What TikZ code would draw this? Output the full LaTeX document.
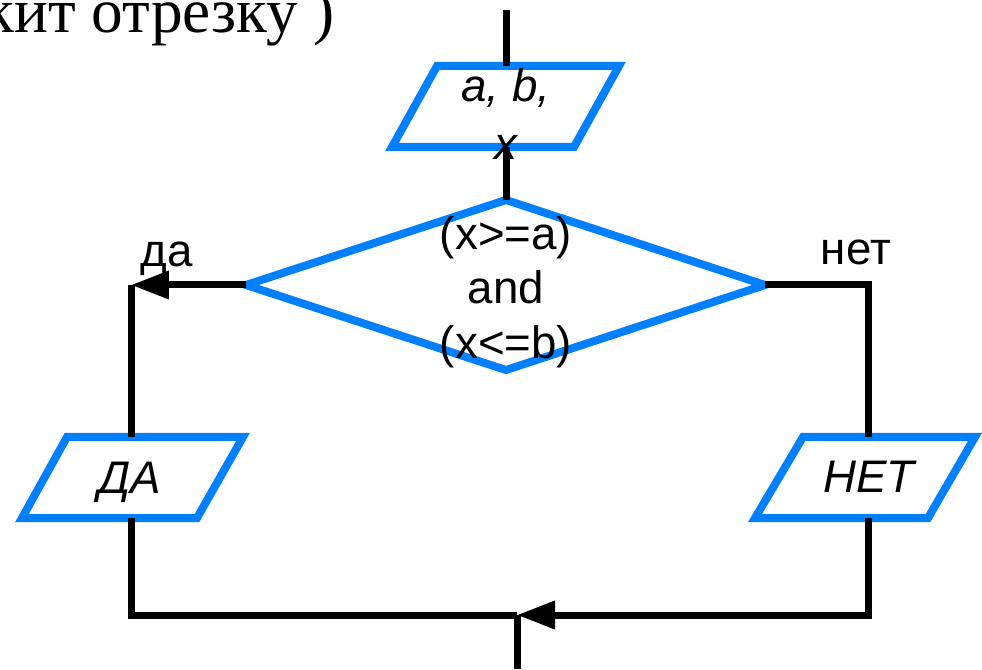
\documentclass[tikz,border=0pt]{standalone}
\usepackage{fontspec}
\setmainfont{Liberation Sans}
\newfontfamily\rmru{Liberation Serif}
\usepackage{tkz-euclide}
\usetikzlibrary{arrows.meta}
\definecolor{flowblue}{RGB}{0,128,255}
\tikzset{
  blockline/.style={draw=flowblue, line width=0.16cm},
  flowline/.style={draw=black, line width=0.14cm},
  flowarrow/.style={flowline, -{Triangle[length=0.76cm,width=0.54cm]}},
  blocktext/.style={font=\fontsize{26}{31}\selectfont, align=center, inner sep=0pt},
  itext/.style={blocktext, font=\fontsize{26}{33}\selectfont\itshape},
}

\begin{document}
\begin{tikzpicture}[x=0.02cm,y=0.02cm]
  \useasboundingbox (0,0) rectangle (982,669);
  % 1. Define the vertices of the blocks
  \tkzDefPoint(437,603){I1} \tkzDefPoint(619,603){I2}
  \tkzDefPoint(574,522){I3} \tkzDefPoint(392,522){I4}
  \tkzDefPoint(506,469){D1} \tkzDefPoint(765,384){D2}
  \tkzDefPoint(506,299){D3} \tkzDefPoint(246,384){D4}
  \tkzDefPoint(67,232){Y1}  \tkzDefPoint(243,232){Y2}
  \tkzDefPoint(197,151){Y3} \tkzDefPoint(22,151){Y4}
  \tkzDefPoint(803,232){N1} \tkzDefPoint(975,232){N2}
  \tkzDefPoint(928,151){N3} \tkzDefPoint(755,151){N4}

  % 2. Define the ends and corners of the flow lines
  \tkzDefPoint(506,659){S}
  \tkzDefPoint(506,603){It} \tkzDefPoint(506,522){Ib}
  \tkzDefPoint(131,384){L}  \tkzDefPoint(868,384){R}
  \tkzDefPoint(131,232){Yt} \tkzDefPoint(131,151){Yb}
  \tkzDefPoint(868,232){Nt} \tkzDefPoint(868,151){Nb}
  \tkzDefPoint(131,54){BL}  \tkzDefPoint(868,54){BR}
  \tkzDefPoint(517,54){M}   \tkzDefPoint(517,0){E}

  % 3. Draw the blocks
  \draw[blockline] (I1) -- (I2) -- (I3) -- (I4) -- cycle;
  \draw[blockline] (D1) -- (D2) -- (D3) -- (D4) -- cycle;
  \draw[blockline] (Y1) -- (Y2) -- (Y3) -- (Y4) -- cycle;
  \draw[blockline] (N1) -- (N2) -- (N3) -- (N4) -- cycle;

  % 4. Draw the flow lines
  \draw[flowline] (S) -- (It);
  \draw[flowline] (Ib) -- (D1);
  \draw[flowarrow] (D4) -- (L);
  \draw[flowline] (L) -- (Yt);
  \draw[flowline] (D2) -- (R) -- (Nt);
  \draw[flowline] (Yb) -- (BL) -- (M);
  \draw[flowarrow] (Nb) -- (BR) -- (M);
  \draw[flowline] (M) -- (E);

  % 5. Texts
  \node[anchor=base east, font=\rmru\fontsize{36}{40}\selectfont] (head) at (341,636) {кит отрезку )};
  \node[itext] (input) at (506,555) {a, b,\\x};
  \node[blocktext] (cond) at (506,377) {(x>=a)\\and\\(x<=b)};
  \node[itext, anchor=base] (outyes) at (130,175) {ДА};
  \node[itext, anchor=base] (outno) at (869,176) {НЕТ};
  \node[blocktext, anchor=base] (yes) at (167,402) {да};
  \node[blocktext, anchor=base] (no) at (856,404) {нет};
\end{tikzpicture}
\end{document}
